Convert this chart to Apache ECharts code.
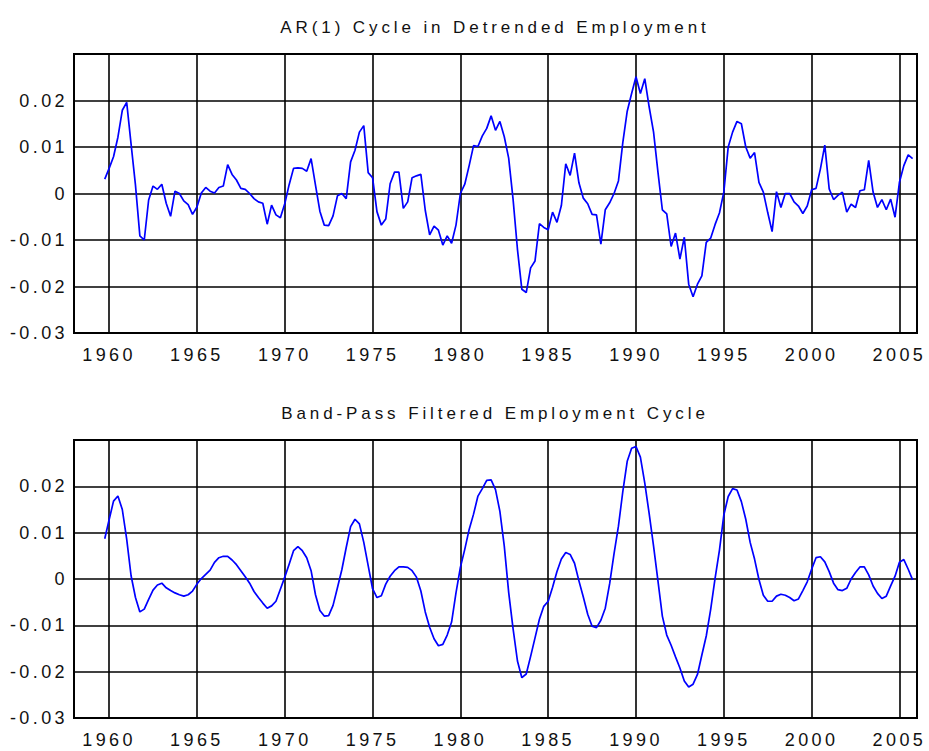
<!DOCTYPE HTML>
<html lang="en">

<head>
	<meta charset="utf-8">
	<title>Employment Cycle</title>
	<style>
		html, body { margin: 0; padding: 0; background: #fff; }
		#chart { width: 929px; height: 751px; }
		/* the original export spreads its letters out */
		#chart text { letter-spacing: 3.4px; }
		#chart text[style*="17px"] { letter-spacing: 3.9px; }
	</style>
</head>

<body>
	<div id="chart"></div>

	<script src="https://cdn.jsdelivr.net/npm/echarts@6/dist/echarts.min.js"></script>

	<script>
		// quarterly data, first value is 1959 Q4
		var startYear = 1959.75;

		var arCycle = [
			0.0031,
			0.0054, 0.0079, 0.0121, 0.0179,
			0.0196, 0.0106, 0.0018, -0.0091,
			-0.0100, -0.0014, 0.0016, 0.0009,
			0.0020, -0.0021, -0.0049, 0.0005,
			0.0000, -0.0016, -0.0024, -0.0045,
			-0.0029, 0.0001, 0.0013, 0.0005,
			0.0001, 0.0013, 0.0016, 0.0062,
			0.0041, 0.0029, 0.0011, 0.0009,
			0.0000, -0.0011, -0.0018, -0.0021,
			-0.0066, -0.0025, -0.0046, -0.0052,
			-0.0022, 0.0019, 0.0054, 0.0055,
			0.0054, 0.0048, 0.0075, 0.0018,
			-0.0038, -0.0068, -0.0069, -0.0048,
			-0.0005, 0.0000, -0.0011, 0.0068,
			0.0093, 0.0132, 0.0146, 0.0045,
			0.0034, -0.0039, -0.0068, -0.0055,
			0.0021, 0.0046, 0.0046, -0.0032,
			-0.0018, 0.0034, 0.0038, 0.0041,
			-0.0036, -0.0089, -0.0070, -0.0079,
			-0.0111, -0.0091, -0.0107, -0.0068,
			0.0000, 0.0020, 0.0060, 0.0103,
			0.0101, 0.0124, 0.0140, 0.0167,
			0.0136, 0.0155, 0.0122, 0.0076,
			-0.0012, -0.0120, -0.0206, -0.0213,
			-0.0160, -0.0145, -0.0065, -0.0073,
			-0.0078, -0.0040, -0.0062, -0.0026,
			0.0064, 0.0039, 0.0087, 0.0023,
			-0.0010, -0.0022, -0.0045, -0.0046,
			-0.0109, -0.0035, -0.0020, 0.0000,
			0.0027, 0.0110, 0.0177, 0.0215,
			0.0251, 0.0215, 0.0247, 0.0186,
			0.0132, 0.0046, -0.0035, -0.0044,
			-0.0114, -0.0085, -0.0141, -0.0094,
			-0.0195, -0.0222, -0.0195, -0.0177,
			-0.0105, -0.0096, -0.0067, -0.0042,
			0.0003, 0.0100, 0.0132, 0.0155,
			0.0150, 0.0100, 0.0076, 0.0088,
			0.0024, 0.0003, -0.0041, -0.0082,
			0.0004, -0.0030, 0.0000, 0.0000,
			-0.0018, -0.0027, -0.0043, -0.0027,
			0.0008, 0.0011, 0.0053, 0.0104,
			0.0010, -0.0013, -0.0004, 0.0003,
			-0.0040, -0.0023, -0.0030, 0.0006,
			0.0008, 0.0071, 0.0003, -0.0030,
			-0.0013, -0.0035, -0.0012, -0.0051,
			0.0024, 0.0060, 0.0083, 0.0075
		];

		var bpCycle = [
			0.0087,
			0.0128, 0.0168, 0.0179, 0.0150,
			0.0086, 0.0007, -0.0040, -0.0071,
			-0.0065, -0.0044, -0.0024, -0.0013,
			-0.0009, -0.0019, -0.0025, -0.0030,
			-0.0034, -0.0037, -0.0034, -0.0026,
			-0.0011, 0.0001, 0.0010, 0.0019,
			0.0036, 0.0046, 0.0049, 0.0049,
			0.0041, 0.0031, 0.0018, 0.0005,
			-0.0009, -0.0027, -0.0040, -0.0052,
			-0.0063, -0.0058, -0.0048, -0.0022,
			0.0004, 0.0032, 0.0061, 0.0070,
			0.0061, 0.0046, 0.0018, -0.0034,
			-0.0068, -0.0080, -0.0079, -0.0057,
			-0.0019, 0.0020, 0.0068, 0.0113,
			0.0129, 0.0119, 0.0079, 0.0029,
			-0.0021, -0.0040, -0.0036, -0.0011,
			0.0006, 0.0018, 0.0026, 0.0026,
			0.0025, 0.0018, 0.0004, -0.0026,
			-0.0071, -0.0104, -0.0129, -0.0144,
			-0.0141, -0.0121, -0.0093, -0.0030,
			0.0025, 0.0064, 0.0107, 0.0140,
			0.0179, 0.0195, 0.0213, 0.0214,
			0.0193, 0.0146, 0.0071, -0.0029,
			-0.0107, -0.0177, -0.0213, -0.0205,
			-0.0167, -0.0127, -0.0087, -0.0059,
			-0.0048, -0.0018, 0.0016, 0.0043,
			0.0057, 0.0053, 0.0034, -0.0004,
			-0.0039, -0.0076, -0.0102, -0.0105,
			-0.0089, -0.0063, -0.0010, 0.0055,
			0.0114, 0.0189, 0.0254, 0.0282,
			0.0286, 0.0263, 0.0207, 0.0141,
			0.0071, -0.0004, -0.0080, -0.0121,
			-0.0143, -0.0168, -0.0192, -0.0220,
			-0.0233, -0.0227, -0.0206, -0.0164,
			-0.0123, -0.0066, 0.0001, 0.0062,
			0.0138, 0.0178, 0.0195, 0.0192,
			0.0167, 0.0129, 0.0079, 0.0043,
			-0.0001, -0.0035, -0.0048, -0.0048,
			-0.0037, -0.0033, -0.0035, -0.0040,
			-0.0047, -0.0043, -0.0025, -0.0006,
			0.0021, 0.0046, 0.0048, 0.0037,
			0.0016, -0.0009, -0.0023, -0.0025,
			-0.0020, 0.0000, 0.0014, 0.0026,
			0.0026, 0.0009, -0.0015, -0.0031,
			-0.0042, -0.0037, -0.0015, 0.0006,
			0.0036, 0.0042, 0.0021, -0.0002
		];

		var titles = ['AR(1) Cycle in Detrended Employment', 'Band-Pass Filtered Employment Cycle'];
		var xRange = [1958, 2006];
		var yRange = [-0.03, 0.03];
		var yStep = 0.01;

		function toPairs(values) {
			return values.map((v, i) => [startYear + i / 4, v]);
		}

		var font = '"Liberation Sans", Arial, sans-serif';
		var none = 'rgba(0,0,0,0)';

		function makeX(idx) {
			return {
				gridIndex: idx,
				type: 'value',
				min: xRange[0],
				max: xRange[1],
				interval: 1,
				axisLine: { show: false },
				axisTick: { show: false },
				axisLabel: {
					margin: 13,
					color: '#111',
					fontSize: 18,
					fontFamily: font,
					formatter: v => (v % 5 === 0 ? String(v) : '')
				},
				// one line every 5 years, ticks start at 1958
				splitLine: {
					show: true,
					lineStyle: { color: [none, none, '#000', none, none], width: 1.6 }
				}
			};
		}

		function makeY(idx) {
			return {
				gridIndex: idx,
				type: 'value',
				min: yRange[0],
				max: yRange[1],
				interval: yStep,
				axisLine: { show: false },
				axisTick: { show: false },
				axisLabel: {
					margin: 6,
					color: '#111',
					fontSize: 18,
					fontFamily: font,
					formatter: v => (Math.abs(v - yRange[1]) < 1e-9 ? '' : String(+v.toFixed(2)))
				},
				splitLine: { show: true, lineStyle: { color: '#000', width: 1.6 } }
			};
		}

		var chart = echarts.init(document.getElementById('chart'), null, { renderer: 'svg' });

		chart.setOption({
			animation: false,
			backgroundColor: '#fff',
			title: [
				{ text: titles[0], left: 490, top: 14, textAlign: 'center',
					textStyle: { fontSize: 17, fontWeight: 'normal', color: '#111', fontFamily: font } },
				{ text: titles[1], left: 490, top: 400, textAlign: 'center',
					textStyle: { fontSize: 17, fontWeight: 'normal', color: '#111', fontFamily: font } }
			],
			grid: [
				{ left: 74, right: 12, top: 54, height: 279, show: true, borderColor: '#000', borderWidth: 2,
					backgroundColor: 'transparent', outerBoundsMode: 'none' },
				{ left: 74, right: 12, top: 440, height: 278, show: true, borderColor: '#000', borderWidth: 2,
					backgroundColor: 'transparent', outerBoundsMode: 'none' }
			],
			xAxis: [makeX(0), makeX(1)],
			yAxis: [makeY(0), makeY(1)],
			series: [
				{
					type: 'line', xAxisIndex: 0, yAxisIndex: 0,
					data: toPairs(arCycle), showSymbol: false, symbol: 'none',
					lineStyle: { color: '#0000ff', width: 1.7 }, z: 5
				},
				{
					type: 'line', xAxisIndex: 1, yAxisIndex: 1,
					data: toPairs(bpCycle), showSymbol: false, symbol: 'none',
					lineStyle: { color: '#0000ff', width: 1.7 }, z: 5
				}
			]
		});
	</script>
</body>

</html>
